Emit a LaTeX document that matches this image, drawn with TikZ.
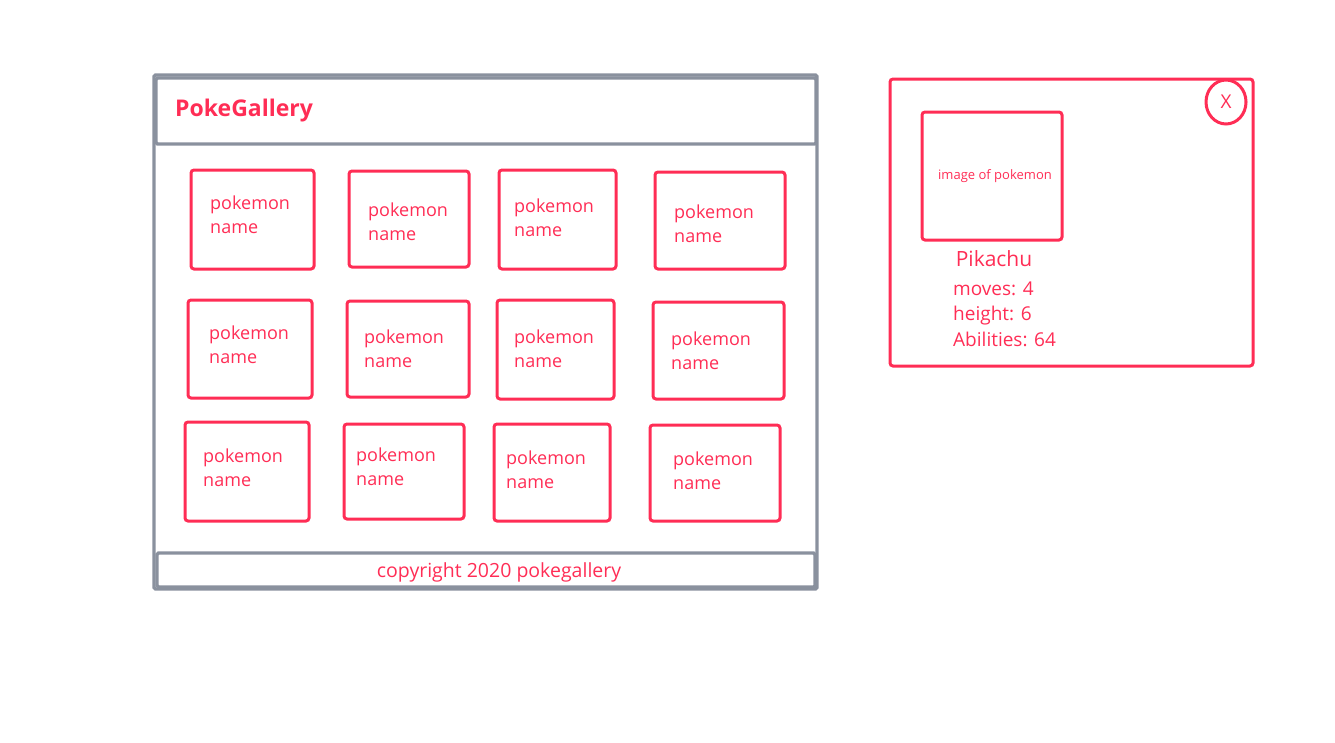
\documentclass[tikz,border=0pt]{standalone}
\usepackage{fontspec}
\setmainfont{Open Sans}
\usetikzlibrary{fit,shapes.geometric}
\definecolor{pred}{HTML}{FF2D55}
\definecolor{pgray}{HTML}{8A919E}
\begin{document}
\begin{tikzpicture}[x=1pt,y=-1pt,
  frame/.style={draw=pgray, line width=3.2pt, rounded corners=1.5pt, inner sep=0pt},
  card/.style={draw=pred, line width=3pt, rounded corners=3pt, inner sep=0pt},
  lbl/.style={text=pred, font=\fontsize{18}{24}\selectfont, align=left, anchor=west, inner sep=0pt},
  info/.style={text=pred, font=\fontsize{19}{25}\selectfont, anchor=base west, inner sep=0pt},
]
\useasboundingbox (0,0) rectangle (1335,742);
% main window
\node[frame, fit={(154,75) (817,589)}] (main) {};
\node[frame, fit={(156,78) (816,144)}] (header) {};
\node[frame, fit={(157,553) (815,587)}] (footer) {};
\node[text=pred, font=\fontsize{23}{28}\selectfont\bfseries, anchor=base west, inner sep=0pt] (title) at (175,116) {PokeGallery};
\node[text=pred, font=\fontsize{19.5}{22}\selectfont, anchor=base, inner sep=0pt] (copy) at (499,577) {copyright 2020 pokegallery};
% cards
\foreach \n/\xa/\ya/\xb/\yb/\tx/\ty in {
  a/191/170/314/269/210/215, b/349/171/469/267/368/222, c/499/170/616/269/514/218, d/655/172/785/269/674/224,
  e/188/300/312/398/209/345, f/347/301/469/397/364/349, g/497/300/614/399/514/349, h/653/302/784/399/671/351,
  i/185/422/309/521/203/468, j/344/424/464/519/356/467, k/494/424/610/521/506/470, l/650/425/780/521/673/471}{
  \node[card, fit={(\xa,\ya) (\xb,\yb)}] (card\n) {};
  \node[lbl] (name\n) at (\tx,\ty) {pokemon\\name};
}
% detail panel
\node[card, fit={(890,79) (1253,366)}] (panel) {};
\node[draw=pred, line width=3pt, ellipse, minimum width=40pt, minimum height=44pt, inner sep=0pt, text=pred, font=\fontsize{19}{22}\selectfont] (close) at (1226,102) {X};
\node[card, fit={(922,112) (1062,240)}] (image) {};
\node[text=pred, font=\fontsize{13}{15}\selectfont, inner sep=0pt] (imgtxt) at (995,176) {image of pokemon};
\node[text=pred, font=\fontsize{21}{24}\selectfont, anchor=base, inner sep=0pt] (pika) at (994,266) {Pikachu};
\node[info] (moves) at (953,295) {moves: 4};
\node[info] (height) at (953,320) {height: 6};
\node[info] (abil) at (953,346) {Abilities: 64};
\end{tikzpicture}
\end{document}
